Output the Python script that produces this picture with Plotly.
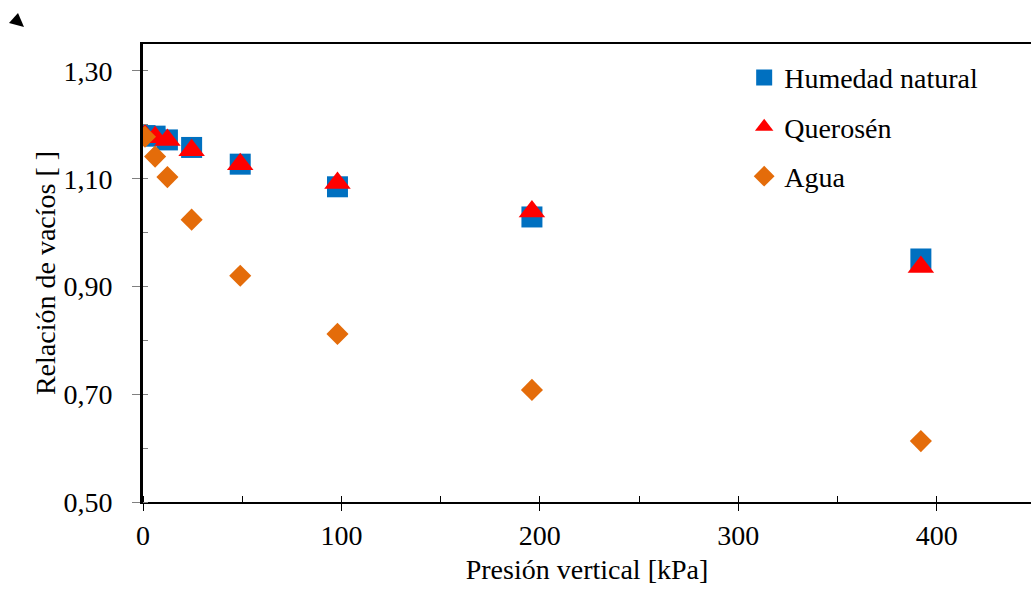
import plotly.graph_objects as go

# Data
presion = [1, 6.1, 12.3, 24.5, 49, 98, 196, 392]
humedad_natural = [1.180, 1.179, 1.172, 1.158, 1.127, 1.085, 1.029, 0.951]
queroseno = [1.180, 1.177, 1.172, 1.153, 1.127, 1.092, 1.039, 0.936]
agua = [1.178, 1.141, 1.103, 1.024, 0.920, 0.812, 0.708, 0.613]

series_names = ["Humedad natural", "Querosén", "Agua"]
x_title = "Presión vertical [kPa]"
y_title = "Relación de vacíos [ ]"

FONT = "Liberation Serif, Times New Roman, serif"
W, H = 1031, 593
ML, MT, MB, MR = 143, 44, 91, 0
XR = [0, 447.5]
YR = [0.5, 1.35]
PW, PH = W - ML - MR, H - MT - MB

def px(x):
    return (x - ML) / PW

def py(y):
    return 1 - (y - MT) / PH

fig = go.Figure()
fig.add_trace(go.Scatter(x=presion, y=humedad_natural, mode="markers", name=series_names[0],
                         legendgroup="a",
                         marker=dict(symbol="square", size=21, color="#0070C0")))
fig.add_trace(go.Scatter(x=presion, y=queroseno, mode="markers", name=series_names[1],
                         legendgroup="b",
                         marker=dict(symbol="triangle-up", size=23, color="#FF0000")))
fig.add_trace(go.Scatter(x=presion, y=agua, mode="markers", name=series_names[2],
                         legendgroup="c",
                         marker=dict(symbol="diamond", size=17, color="#E46C0A")))

fig.update_layout(
    width=W, height=H,
    margin=dict(l=ML, r=MR, t=MT, b=MB, pad=0),
    paper_bgcolor="white", plot_bgcolor="white",
    font=dict(family=FONT, size=28, color="black"),
    separators=", ",
    showlegend=True,
    legend=dict(x=0.677, y=0.981, xanchor="left", yanchor="top",
                bgcolor="rgba(0,0,0,0)", font=dict(size=28, family=FONT),
                tracegroupgap=10, itemwidth=30),
    xaxis=dict(range=XR, showgrid=False, zeroline=False,
               showline=True, linecolor="black", linewidth=2, mirror=True,
               ticks="outside", ticklen=7, tickcolor="black", tickwidth=1,
               tick0=0, dtick=100,
               minor=dict(ticks="inside", ticklen=6, tickcolor="black", tickwidth=1, dtick=50, tick0=0),
               tickfont=dict(size=28, family=FONT),
               title=dict(text=x_title, font=dict(size=28, family=FONT), standoff=10)),
    xaxis2=dict(range=XR, overlaying="x", anchor="y", side="bottom", showgrid=False,
                zeroline=False, showline=False, ticks="inside", ticklen=6,
                tickcolor="black", tickwidth=1, tick0=0, dtick=100, showticklabels=False),
    yaxis=dict(range=YR, showgrid=False, zeroline=False,
               showline=True, linecolor="black", linewidth=3,
               ticks="outside", ticklen=8, tickcolor="#808080", tickwidth=1,
               tick0=0.5, dtick=0.2, tickformat=".2f",
               minor=dict(ticks="inside", ticklen=5, tickcolor="#808080", tickwidth=1, dtick=0.1, tick0=0.5),
               tickfont=dict(size=28, family=FONT),
               ticklabelstandoff=14,
               title=dict(text=y_title, font=dict(size=28, family=FONT), standoff=0)),
    yaxis2=dict(range=YR, overlaying="y", anchor="x", side="left", showgrid=False,
                zeroline=False, showline=False, ticks="inside", ticklen=6,
                tickcolor="#808080", tickwidth=1, tick0=0.5, dtick=0.2, showticklabels=False),
)

# small decorative triangle at the top-left corner of the original image
fig.add_shape(type="path", xref="paper", yref="paper",
              path=f"M {px(9)},{py(23)} L {px(18)},{py(13)} L {px(24)},{py(27)} Z",
              fillcolor="black", line=dict(width=0), layer="above")

fig.write_html("out.html")
